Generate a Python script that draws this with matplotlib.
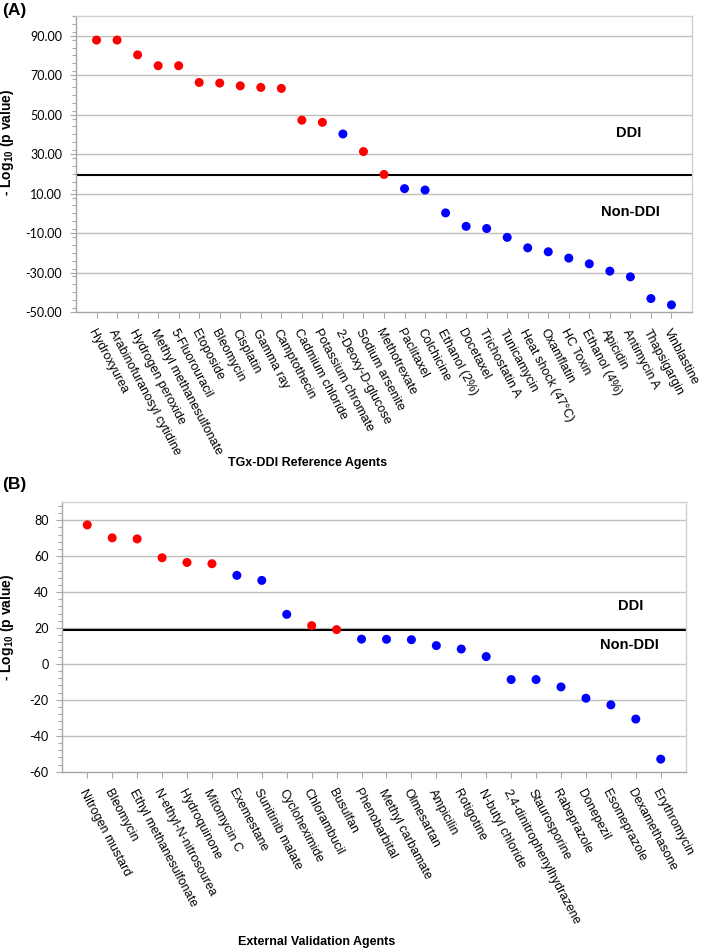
import matplotlib
matplotlib.use("Agg")
import matplotlib.pyplot as plt
from matplotlib.ticker import MultipleLocator, FixedLocator

plt.rcParams['mathtext.fontset'] = 'custom'
plt.rcParams['mathtext.rm'] = 'Liberation Sans:bold'
plt.rcParams['mathtext.bf'] = 'Liberation Sans:bold'

# ---------------- Data ----------------
agents_a = ["Hydroxyurea", "Arabinofuranosyl cytidine", "Hydrogen peroxide",
            "Methyl methanesulfonate", "5-Fluorouracil", "Etoposide", "Bleomycin",
            "Cisplatin", "Gamma ray", "Camptothecin", "Cadmium chloride",
            "Potassium chromate", "2-Deoxy-D-glucose", "Sodium arsenite",
            "Methotrexate", "Paclitaxel", "Colchicine", "Ethanol (2%)", "Docetaxel",
            "Trichostatin A", "Tunicamycin", "Heat shock (47\u00b0C)", "Oxamflatin",
            "HC Toxin", "Ethanol (4%)", "Apicidin", "Antimycin A", "Thapsigargin",
            "Vinblastine"]
values_a = [87.8, 87.8, 80.3, 74.8, 74.8, 66.3, 66.0, 64.6, 63.8, 63.3, 47.2, 46.1,
            40.2, 31.3, 19.7, 12.5, 11.8, 0.2, -6.6, -7.7, -12.2, -17.5, -19.5,
            -22.7, -25.6, -29.3, -32.2, -43.2, -46.4]
ddi_a = [1, 1, 1, 1, 1, 1, 1, 1, 1, 1, 1, 1, 0, 1, 1, 0, 0, 0, 0, 0, 0, 0, 0,
         0, 0, 0, 0, 0, 0]
threshold_a = 19.4

agents_b = ["Nitrogen mustard", "Bleomycin", "Ethyl methanesulfonate",
            "N-ethyl-N-nitrosourea", "Hydroquinone", "Mitomycin C", "Exemestane",
            "Sunitinib malate", "Cycloheximide", "Chlorambucil", "Busulfan",
            "Phenobarbital", "Methyl carbamate", "Olmesartan", "Ampicilin",
            "Rotigotine", "N-butyl chloride", "2,4-dinitrophenylhydrazene",
            "Staurosporine", "Rabeprazole", "Donepezil", "Esomeprazole",
            "Dexamethasone", "Erythromycin"]
values_b = [77.4, 70.2, 69.6, 59.1, 56.5, 55.8, 49.3, 46.5, 27.6, 21.3, 19.1, 13.8,
            13.7, 13.5, 10.2, 8.3, 4.1, -8.7, -8.7, -12.8, -19.1, -22.8, -30.7, -53.0]
ddi_b = [1, 1, 1, 1, 1, 1, 0, 0, 0, 1, 1, 0, 0, 0, 0, 0, 0, 0, 0, 0, 0, 0, 0, 0]
threshold_b = 18.7

RED = "#FF0000"
BLUE = "#0000FF"
GRID = "#BFBFBF"
SPINE = "#A6A6A6"
LABEL_FONT = "Liberation Sans"
TICK_FONT = "Lato"

fig = plt.figure(figsize=(7.09, 9.52), dpi=100)


def draw_panel(ax, agents, values, ddi, thr, ylim, major, ytickfmt, ddi_pos, non_pos):
    n = len(agents)
    xs = list(range(1, n + 1))
    ax.set_xlim(0, n + 1)
    ax.set_ylim(*ylim)
    # grid
    gl = [v for v in range(int(ylim[0]), int(ylim[1]) + 1, major)]
    for g in gl[1:]:
        ax.axhline(g, color=GRID, lw=1.0, zorder=0)
    ax.axhline(thr, color="black", lw=1.5, zorder=1)
    cols = [RED if d else BLUE for d in ddi]
    ax.scatter(xs, values, c=cols, s=42, zorder=3, linewidths=0)
    for s in ax.spines.values():
        s.set_color(SPINE)
        s.set_linewidth(1.0)
    ax.spines['top'].set_color("#D0D0D0")
    ax.spines['right'].set_color("#D0D0D0")
    ax.yaxis.set_major_locator(FixedLocator(gl))
    ax.yaxis.set_minor_locator(MultipleLocator(major / 5))
    ax.set_yticklabels([ytickfmt.format(v) for v in gl], fontfamily=TICK_FONT,
                       fontsize=9)
    ax.tick_params(axis='y', which='both', direction='out', color=SPINE, length=4,
                   width=0.8, pad=6)
    ax.tick_params(axis='y', which='minor', length=3)
    ax.set_xticks(xs)
    ax.set_xticklabels(agents, rotation=-62, ha='left', va='top',
                       rotation_mode='anchor', fontfamily=LABEL_FONT, fontsize=9)
    ax.tick_params(axis='x', direction='out', color=SPINE, length=4, width=0.8,
                   pad=7)
    ax.text(ddi_pos[0], ddi_pos[1], "DDI", ha='center', va='center',
            fontweight='bold', fontfamily=LABEL_FONT, fontsize=10.5)
    ax.text(non_pos[0], non_pos[1], "Non-DDI", ha='center', va='center',
            fontweight='bold', fontfamily=LABEL_FONT, fontsize=10.5)
    ax.set_ylabel(r"- Log$_{10}$ (p value)", fontweight='bold',
                  fontfamily=LABEL_FONT, fontsize=10)


ax_a = fig.add_axes([0.1072, 0.6723, 0.8688, 0.3109])
draw_panel(ax_a, agents_a, values_a, ddi_a, threshold_a, (-50, 100), 20, "{:.2f}",
           (26.9, 40.9), (27.0, 0.8))
ax_a.yaxis.set_label_coords(-0.097, 0.574)

ax_b = fig.add_axes([0.0879, 0.1894, 0.8792, 0.2830])
draw_panel(ax_b, agents_b, values_b, ddi_b, threshold_b, (-60, 90), 20, "{:.0f}",
           (22.8, 32.2), (22.76, 10.4))
ax_b.yaxis.set_label_coords(-0.074, 0.537)

fig.text(0.434, 0.5137, "TGx-DDI Reference Agents", ha='center', va='center',
         fontweight='bold', fontfamily=LABEL_FONT, fontsize=9)
fig.text(0.4467, 0.0108, "External Validation Agents", ha='center', va='center',
         fontweight='bold', fontfamily=LABEL_FONT, fontsize=9)
fig.text(0.003, 0.997, "(A)", ha='left', va='top', fontweight='bold',
         fontfamily=LABEL_FONT, fontsize=12.5)
fig.text(0.003, 0.4985, "(B)", ha='left', va='top', fontweight='bold',
         fontfamily=LABEL_FONT, fontsize=12.5)

fig.savefig("out.png", dpi=100)
